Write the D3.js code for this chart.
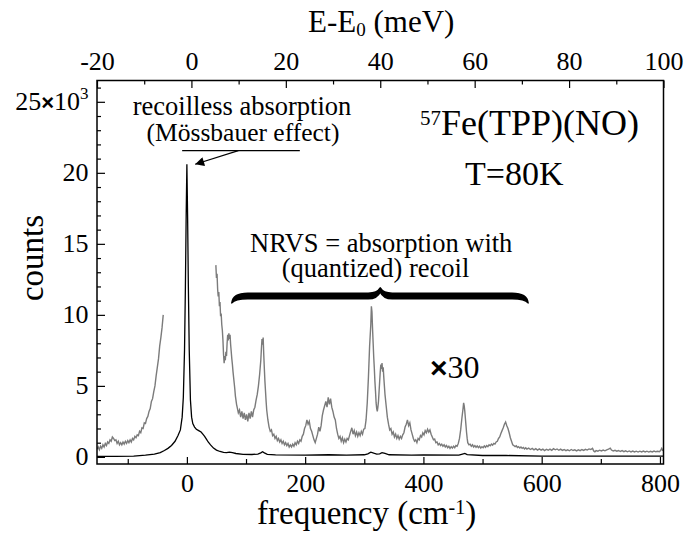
<!DOCTYPE html>
<html>
<head>
<meta charset="utf-8">
<script src="https://cdn.jsdelivr.net/npm/d3@7"></script>
<style>
  body { margin: 0; background: #fff; }
  svg { display: block; font-family: "Liberation Serif", "Times New Roman", serif; }
</style>
</head>
<body>
<svg id="chart" width="692" height="534"></svg>
<script>
// counts are in units of 10^3, frequency in cm^-1
// black: measured spectrum (elastic peak at 0)
var blackSpectrum = [
  [-152,0.04],[-120,0.04],[-90,0.06],[-70,0.12],[-55,0.2],[-45,0.3],[-38,0.45],[-32,0.6],[-26,0.8],
  [-20,1.1],[-15,1.5],[-11,1.9],[-8,2.8],[-6,4.2],[-4,7.5],[-2.5,12],[-1.2,17],[0,20.6],[1.2,17],
  [2.5,12],[4,7.5],[6,4.0],[8,2.8],[10,2.35],[13,2.1],[16,1.95],[20,1.85],[24,1.75],[27,1.6],
  [30,1.45],[33,1.25],[36,1.05],[40,0.85],[45,0.62],[50,0.48],[56,0.38],[62,0.32],[67,0.3],
  [72,0.34],[77,0.3],[83,0.24],[95,0.18],[110,0.17],[120,0.2],[125,0.28],[128,0.36],[131,0.28],
  [136,0.18],[150,0.14],[200,0.12],[240,0.15],[270,0.12],[300,0.15],[306,0.22],[311,0.33],
  [316,0.26],[321,0.2],[326,0.22],[330,0.3],[335,0.24],[342,0.15],[380,0.12],[400,0.14],
  [460,0.12],[466,0.2],[470,0.24],[474,0.16],[500,0.1],[540,0.1],[600,0.06],[700,0.05],[806,0.05]
];

// grey: same spectrum x30, below the elastic line
var grayLow = [
  [-152,0.55],[-150,0.7],[-148,0.5],[-146,0.75],[-144,0.6],[-142,0.85],[-140,0.7],[-138,0.95],
  [-136,0.8],[-134,1.05],[-132,0.95],[-130,1.2],[-128,1.1],[-126,1.4],[-124,1.3],[-122,1.15],
  [-120,1.2],[-118,0.95],[-116,1.1],[-114,0.85],[-112,1.0],[-110,0.85],[-108,1.05],[-106,0.9],
  [-104,1.1],[-102,0.95],[-100,1.15],[-98,1.0],[-96,1.2],[-94,1.05],[-92,1.3],[-90,1.2],
  [-88,1.45],[-86,1.35],[-84,1.55],[-82,1.5],[-80,1.8],[-78,1.7],[-76,2.05],[-74,2.0],
  [-72,2.4],[-70,2.35],[-68,2.7],[-66,2.85],[-64,3.2],[-62,3.4],[-60,3.9],[-58,4.1],[-56,4.6],
  [-54,5.0],[-52,5.7],[-50,6.3],[-48,6.9],[-46,7.8],[-44,8.4],[-42,9.1],[-40,10.0]
];

// grey: x30, above the elastic line
var grayHigh = [
  [49,13.5],[50,12.6],[51,12.9],[52,11.8],[53,11.3],[54,11.6],[55,10.6],[56,10.9],[57,9.9],
  [58,10.1],[59,9.3],[60,8.9],[61,8.2],[62,7.2],[63,6.6],[64,7.1],[65,6.8],[66,7.4],[67,7.1],
  [68,8.0],[69,8.6],[70,8.2],[71,8.7],[72,8.3],[73,8.6],[74,7.9],[75,7.4],[76,6.9],[77,6.5],
  [78,6.0],[79,5.6],[80,5.2],[81,4.8],[82,4.3],[83,4.0],[84,3.7],[85,3.5],[87,3.1],[89,3.3],
  [91,2.8],[93,3.2],[95,2.7],[97,3.1],[99,2.6],[101,3.0],[103,2.5],[105,3.1],[107,2.7],
  [109,3.2],[111,2.8],[113,3.3],[115,3.5],[117,4.0],[119,4.4],[121,5.0],[123,5.8],[125,6.8],
  [126,7.6],[127,8.3],[128,7.9],[129,8.4],[130,7.2],[131,6.2],[132,5.3],[133,4.6],[134,3.9],
  [135,3.3],[137,2.6],[139,2.1],[141,1.8],[143,1.9],[145,1.5],[147,1.6],[149,1.3],[151,1.45],
  [153,1.15],[155,1.3],[157,1.05],[159,1.2],[161,0.95],[163,1.1],[165,0.85],[167,1.0],
  [169,0.8],[171,0.95],[173,0.7],[175,0.85],[177,0.7],[179,0.9],[181,0.75],[183,1.0],
  [185,0.85],[187,1.1],[189,0.95],[191,1.2],[193,1.1],[195,1.45],[197,1.6],[199,2.0],
  [201,2.2],[203,2.6],[205,2.3],[207,2.5],[209,2.0],[211,1.8],[213,1.5],[215,1.2],[217,1.0],
  [219,1.3],[221,1.6],[223,2.1],[225,1.8],[227,2.2],[229,2.9],[231,3.3],[233,3.6],[235,3.9],
  [237,3.5],[239,4.2],[241,3.7],[243,4.1],[245,3.5],[247,3.2],[249,2.8],[251,2.6],[253,2.0],
  [255,1.6],[257,1.3],[259,1.45],[261,1.1],[263,1.35],[265,1.0],[267,1.25],[269,1.05],
  [271,1.3],[273,1.2],[275,1.5],[277,1.8],[279,2.05],[281,1.6],[283,1.85],[285,1.5],
  [287,1.75],[289,1.45],[291,1.7],[293,1.5],[295,1.8],[297,1.6],[299,1.95],[301,2.0],
  [303,2.6],[305,3.8],[307,5.6],[309,7.8],[311,9.3],[312,10.6],[313,10.2],[314,9.0],
  [315,8.0],[316,7.0],[317,6.2],[318,5.3],[319,4.6],[320,3.8],[321,3.4],[322,3.2],[323,3.5],
  [324,3.9],[325,4.6],[326,5.3],[327,6.0],[328,6.5],[329,6.2],[330,6.6],[331,6.0],[332,6.3],
  [333,5.6],[334,5.0],[335,4.4],[337,3.6],[339,2.8],[341,2.3],[343,1.9],[345,2.0],[347,1.6],
  [349,1.75],[351,1.4],[353,1.6],[355,1.3],[357,1.5],[359,1.25],[361,1.45],[363,1.3],
  [365,1.55],[367,1.7],[369,2.1],[371,2.3],[373,2.6],[375,2.2],[377,2.4],[379,1.9],[381,1.6],
  [383,1.3],[385,1.1],[387,1.2],[389,1.0],[391,1.3],[393,1.2],[395,1.5],[397,1.4],[399,1.7],
  [401,1.55],[403,1.85],[405,1.7],[407,1.95],[409,1.75],[411,1.9],[413,1.6],[415,1.4],
  [417,1.2],[419,1.25],[421,1.0],[423,1.05],[425,0.85],[427,0.95],[429,0.8],[431,0.9],
  [433,0.75],[435,0.85],[437,0.7],[439,0.8],[441,0.65],[443,0.75],[445,0.6],[447,0.72],
  [449,0.62],[451,0.75],[453,0.65],[455,0.8],[457,0.75],[459,0.95],[461,1.3],[463,1.9],
  [465,2.7],[467,3.4],[468,3.8],[469,3.6],[470,3.2],[471,2.7],[472,2.2],[473,1.7],[474,1.3],
  [475,1.0],[477,0.85],[479,0.9],[481,0.75],[483,0.85],[485,0.7],[487,0.8],[489,0.68],
  [491,0.78],[493,0.65],[495,0.75],[497,0.62],[499,0.72],[501,0.65],[503,0.78],[505,0.68],
  [507,0.8],[509,0.72],[511,0.85],[513,0.78],[515,0.9],[517,0.82],[519,0.95],[521,0.9],
  [523,1.05],[525,1.1],[527,1.3],[529,1.4],[531,1.65],[533,1.85],[535,2.05],[537,2.3],
  [539,2.45],[541,2.2],[543,2.0],[545,1.7],[547,1.35],[549,1.1],[551,0.85],[553,0.8],
  [555,0.72],[557,0.78],[559,0.66],[561,0.72],[563,0.62],[565,0.7],[567,0.6],[569,0.66],
  [571,0.56],[573,0.64],[575,0.55],[578,0.62],[581,0.52],[584,0.6],[587,0.5],[590,0.58],
  [593,0.48],[596,0.56],[599,0.48],[602,0.55],[605,0.45],[608,0.54],[611,0.47],[614,0.55],
  [617,0.46],[620,0.58],[623,0.5],[626,0.56],[629,0.47],[632,0.55],[635,0.46],[638,0.52],
  [641,0.44],[644,0.5],[647,0.43],[650,0.52],[653,0.45],[656,0.5],[659,0.42],[662,0.5],
  [665,0.44],[668,0.52],[671,0.46],[674,0.53],[677,0.48],[680,0.56],[683,0.52],[686,0.6],
  [688,0.42],[690,0.36],[692,0.44],[695,0.4],[698,0.47],[701,0.42],[704,0.48],[707,0.43],
  [710,0.5],[713,0.55],[716,0.62],[718,0.48],[721,0.42],[724,0.46],[727,0.4],[730,0.45],
  [733,0.38],[736,0.44],[739,0.37],[742,0.43],[745,0.36],[748,0.42],[751,0.35],[754,0.41],
  [757,0.35],[760,0.4],[763,0.34],[766,0.4],[769,0.35],[772,0.41],[775,0.35],[778,0.4],
  [781,0.34],[784,0.39],[787,0.35],[790,0.41],[793,0.36],[796,0.4],[799,0.37],[801,0.45],
  [803,0.6],[805,0.42]
];

var freqMajor = [0, 200, 400, 600, 800];
var freqMinor = [-100, 100, 300, 500, 700];
var energyMajor = [-20, 0, 20, 40, 60, 80, 100];
var energyMinor = [-10, 10, 30, 50, 70, 90];
var countMajor = [0, 5, 10, 15, 20, 25];
var countMinor = d3.range(1, 27).filter(function(d){ return d % 5 != 0; });

var svg = d3.select('#chart');
var pl = 97, pr = 663.5, pt = 80.5, pb = 464;

var x = d3.scaleLinear().domain([-152, 806]).range([pl, pr]);
var xTop = d3.scaleLinear().domain([-20, 100]).range([pl, pr]);
var y = d3.scaleLinear().domain([-0.5, 26.5]).range([pb, pt]);

var line = d3.line().x(function(d){ return x(d[0]); }).y(function(d){ return y(d[1]); });
var plain = function(d){ return String(d); }; // keep the ascii hyphen in "-20"

var defs = svg.append('defs');
defs.append('clipPath').attr('id', 'plotclip')
  .append('rect').attr('x', pl).attr('y', pt).attr('width', pr - pl).attr('height', pb - pt);

var plot = svg.append('g').attr('clip-path', 'url(#plotclip)');
[grayLow, grayHigh].forEach(function(seg){
  plot.append('path').datum(seg).attr('d', line)
    .attr('fill', 'none').attr('stroke', '#7b7b7b').attr('stroke-width', 1.4);
});
plot.append('path').datum(blackSpectrum).attr('d', line)
  .attr('fill', 'none').attr('stroke', '#000').attr('stroke-width', 1.3);

// axes, ticks pointing inward
function clean(g, size) {
  g.attr('font-family', null).attr('font-size', size);
  g.select('.domain').remove();
  g.selectAll('line').attr('stroke', '#000').attr('stroke-width', 1.2);
  g.selectAll('text').attr('fill', '#000');
}

svg.append('g').attr('transform', 'translate(0,' + pb + ')')
  .call(d3.axisBottom(x).tickValues(freqMinor).tickSize(-5).tickSizeOuter(0).tickFormat(''))
  .call(clean, 26);
svg.append('g').attr('transform', 'translate(0,' + pb + ')')
  .call(d3.axisBottom(x).tickValues(freqMajor).tickSize(-7).tickSizeOuter(0).tickFormat(plain))
  .call(clean, 26)
  .call(function(g){ g.selectAll('text').attr('y', 27.7).attr('dy', null); });

svg.append('g').attr('transform', 'translate(0,' + pt + ')')
  .call(d3.axisTop(xTop).tickValues(energyMinor).tickSize(-4).tickSizeOuter(0).tickFormat(''))
  .call(clean, 26);
svg.append('g').attr('transform', 'translate(0,' + pt + ')')
  .call(d3.axisTop(xTop).tickValues(energyMajor).tickSize(-7.5).tickSizeOuter(0).tickFormat(plain))
  .call(clean, 26)
  .call(function(g){ g.selectAll('text').attr('y', -10.5).attr('dy', null); });

svg.append('g').attr('transform', 'translate(' + pl + ',0)')
  .call(d3.axisLeft(y).tickValues(countMinor).tickSize(-4).tickSizeOuter(0).tickFormat(''))
  .call(clean, 26);
svg.append('g').attr('transform', 'translate(' + pl + ',0)')
  .call(d3.axisLeft(y).tickValues(countMajor).tickSize(-8).tickSizeOuter(0).tickFormat(plain))
  .call(clean, 26)
  .call(function(g){
    g.selectAll('text').attr('x', -8.5).attr('dy', '0.29em');
    var t = g.selectAll('text').filter(function(d){ return d === 25; }).text(null);
    t.append('tspan').text('25');
    t.append('tspan').attr('font-family', '"Liberation Sans", Arial, sans-serif')
      .attr('font-weight', 'bold').attr('font-size', 22).text('\u00d7');
    t.append('tspan').text('10');
    t.append('tspan').attr('font-size', 17).attr('dy', -11).text('3');
  });

svg.append('rect').attr('x', pl).attr('y', pt)
  .attr('width', pr - pl).attr('height', pb - pt)
  .attr('fill', 'none').attr('stroke', '#000').attr('stroke-width', 1.5);

// axis titles
var xt = svg.append('text').attr('x', 257).attr('y', 524).attr('font-size', 33);
xt.append('tspan').text('frequency (cm');
xt.append('tspan').attr('font-size', 20).attr('dy', -10).text('-1');
xt.append('tspan').attr('dy', 10).text(')');

var tt = svg.append('text').attr('x', 308).attr('y', 31.7).attr('font-size', 31);
tt.append('tspan').text('E-E');
tt.append('tspan').attr('font-size', 19).attr('dy', 4).text('0');
tt.append('tspan').attr('dy', -4).text(' (meV)');

svg.append('text').attr('transform', 'translate(43,258) rotate(-90)')
  .attr('text-anchor', 'middle').attr('font-size', 33).text('counts');

// annotations
svg.append('text').attr('x', 242).attr('y', 115).attr('text-anchor', 'middle')
  .attr('font-size', 26.5).text('recoilless absorption');
svg.append('text').attr('x', 243).attr('y', 141).attr('text-anchor', 'middle')
  .attr('font-size', 25.5).text('(Mössbauer effect)');
svg.append('line').attr('x1', x(-8)).attr('x2', x(191)).attr('y1', y(21.56)).attr('y2', y(21.56))
  .attr('stroke', '#000').attr('stroke-width', 1.2);

defs.append('marker').attr('id', 'arrow')
  .attr('viewBox', '0 0 10 10').attr('refX', 10).attr('refY', 5)
  .attr('markerWidth', 18).attr('markerHeight', 9).attr('markerUnits', 'userSpaceOnUse')
  .attr('orient', 'auto')
  .append('path').attr('d', 'M0,0 L10,5 L0,10 Z').attr('fill', '#000');
svg.append('line').attr('x1', x(87)).attr('y1', y(21.56)).attr('x2', x(14)).attr('y2', y(20.6))
  .attr('stroke', '#000').attr('stroke-width', 1.2).attr('marker-end', 'url(#arrow)');

var f = svg.append('text').attr('x', 420).attr('y', 135).attr('font-size', 36);
f.append('tspan').attr('font-size', 21).attr('dy', -10).text('57');
f.append('tspan').attr('dy', 10).text('Fe(TPP)(NO)');
svg.append('text').attr('x', 465).attr('y', 185).attr('font-size', 34).text('T=80K');

svg.append('text').attr('x', 250).attr('y', 251.7).attr('font-size', 26.5).text('NRVS = absorption with');
svg.append('text').attr('x', 281.7).attr('y', 277).attr('font-size', 26.5).text('(quantized) recoil');

// curly brace over the vibrational region
var bx0 = x(76), bx1 = x(577), bxm = x(327);
var byEnd = y(10.84), byBar = y(11.33), byTip = y(11.9), h = 2.8;
var brace = [
  'M', bx0, byEnd,
  'Q', bx0 + 1, byBar - h, bx0 + 16, byBar - h,
  'L', bxm - 12, byBar - h,
  'Q', bxm - 3, byBar - h, bxm, byTip,
  'Q', bxm + 3, byBar - h, bxm + 12, byBar - h,
  'L', bx1 - 16, byBar - h,
  'Q', bx1 - 1, byBar - h, bx1, byEnd,
  'Q', bx1 - 3, byBar + h, bx1 - 16, byBar + h,
  'L', bxm + 12, byBar + h,
  'Q', bxm + 3, byBar + h, bxm, byTip + 4,
  'Q', bxm - 3, byBar + h, bxm - 12, byBar + h,
  'L', bx0 + 16, byBar + h,
  'Q', bx0 + 3, byBar + h, bx0, byEnd, 'Z'
].join(' ');
svg.append('path').attr('d', brace).attr('fill', '#000')
  .attr('stroke', '#000').attr('stroke-width', 1.5).attr('stroke-linejoin', 'round');

var m = svg.append('text').attr('x', 430).attr('y', 378.3).attr('font-size', 32);
m.append('tspan').attr('font-family', '"Liberation Sans", Arial, sans-serif')
  .attr('font-weight', 'bold').attr('font-size', 30).text('\u00d7');
m.append('tspan').text('30');
</script>
</body>
</html>
